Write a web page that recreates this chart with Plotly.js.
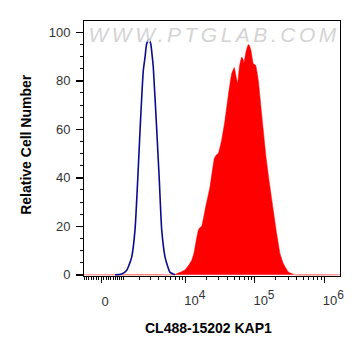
<!DOCTYPE html>
<html>
<head>
<meta charset="utf-8">
<script src="https://cdn.plot.ly/plotly-3.0.1.min.js"></script>
<style>
html,body{margin:0;padding:0;background:#fff;}
.annotation-text.wm{letter-spacing:3.5px;}
</style>
</head>
<body>
<div id="chart" style="width:361px;height:356px;"></div>
<script>
// Display positions are in "decade" units of the biexponential axis (10^4 -> 4, 10^5 -> 5 ...)
const isotypeX = [2.980, 3.076, 3.149, 3.182, 3.221, 3.268, 3.307, 3.341, 3.388, 3.413, 3.437, 3.470, 3.495, 3.518, 3.532, 3.582, 3.619, 3.654, 3.701, 3.745, 3.773, 3.846];
const isotypeCount = [0, 0.3, 1.9, 4, 7.4, 18.4, 39, 59.6, 84.3, 89.8, 95.3, 97, 95.3, 89.8, 85.7, 59.6, 39, 18.4, 7.4, 3, 1, 0];

const kap1X = [2.532, 3.802, 3.860, 3.918, 3.990, 4.040, 4.087, 4.120, 4.144, 4.182, 4.206, 4.231, 4.279, 4.351, 4.413, 4.444, 4.470, 4.519, 4.567, 4.615, 4.664, 4.701, 4.726, 4.750, 4.776, 4.808, 4.827, 4.841, 4.870, 4.903, 4.921, 4.942, 4.975, 5.010, 5.048, 5.072, 5.120, 5.159, 5.216, 5.264, 5.313, 5.361, 5.408, 5.481, 5.577, 6.227];
const kap1Count = [0, 0, 0.3, 1, 2, 3.8, 6, 9, 12.9, 18.4, 19.5, 20, 26.7, 36.3, 48, 49.5, 50, 55.5, 63.7, 74, 83, 85.5, 82, 78.9, 86, 89.8, 89, 87.5, 92, 95, 94.5, 92.6, 87.1, 86.4, 80.2, 73.3, 59.6, 48.6, 36.3, 26.7, 17, 8.8, 4.7, 1.2, 0, 0];

const majorValues = [1e4, 1e5, 1e6];
const majorExponents = ['4', '5', '6'];
const zeroLabel = '0';
const yTickValues = [0, 20, 40, 60, 80, 100];

const xTitle = 'CL488-15202 KAP1';
const yTitle = 'Relative Cell Number';
const watermark = 'WWW.PTGLAB.COM';

// biexponential-like display transform
const ZERO_POS = 2.778, LIN_WIDTH = 1200;
function biex(v){ return ZERO_POS + Math.asinh(v / LIN_WIDTH) / Math.LN10; }

const xRange = [2.532, 6.227];
const yRange = [-0.5, 104.7];

// minor tick values
const minorVals = [];
[100, 1000, 10000, 100000].forEach(function(dec){
  for (let k = 1; k <= 9; k++){
    const v = k * dec;
    [v, -v].forEach(function(w){
      const p = biex(w);
      if (p > xRange[0] && p < xRange[1]) minorVals.push(p);
    });
  }
});

const font = 'Liberation Sans, Arial, sans-serif';
const majorLabels = majorExponents.map(function(e){
  return '10<sup><span style="font-size:12px">' + e + '</span></sup>';
});

const traces = [
  {x: kap1X, y: kap1Count, type: 'scatter', mode: 'lines', fill: 'tozeroy',
   fillcolor: '#ff0000', line: {color: '#ff0000', width: 0.5, shape: 'spline', smoothing: 0.3},
   hoverinfo: 'skip', showlegend: false},
  {x: isotypeX, y: isotypeCount, type: 'scatter', mode: 'lines',
   line: {color: '#0c0c8a', width: 1.6, shape: 'spline', smoothing: 0.6},
   hoverinfo: 'skip', showlegend: false},
  {x: [], y: [], xaxis: 'x2', type: 'scatter', showlegend: false},
  {x: [], y: [], xaxis: 'x3', type: 'scatter', showlegend: false}
];

const layout = {
  width: 361, height: 356,
  margin: {l: 84, r: 21, t: 21, b: 80},
  paper_bgcolor: '#fff', plot_bgcolor: '#fff',
  showlegend: false,
  font: {family: font, color: '#333', size: 13},
  xaxis: {
    range: xRange, showgrid: false, zeroline: false,
    showline: true, mirror: true, linecolor: '#000', linewidth: 1,
    tickmode: 'array', tickvals: majorValues.map(biex), ticktext: majorLabels,
    ticks: 'outside', ticklen: 6, tickcolor: '#000', tickwidth: 1,
    ticklabelshift: 9, ticklabelstandoff: 6,
    tickfont: {family: font, size: 13, color: '#333'}
  },
  xaxis2: {
    overlaying: 'x', anchor: 'y', side: 'bottom', range: xRange,
    showgrid: false, zeroline: false, showline: false,
    tickmode: 'array', tickvals: minorVals, showticklabels: false,
    ticks: 'outside', ticklen: 3, tickcolor: '#000', tickwidth: 1
  },
  xaxis3: {
    overlaying: 'x', anchor: 'y', side: 'bottom', range: xRange,
    showgrid: false, zeroline: false, showline: false,
    tickmode: 'array', tickvals: [biex(0)], ticktext: [zeroLabel],
    ticks: 'outside', ticklen: 6, tickcolor: '#000', tickwidth: 1,
    ticklabelshift: 4, ticklabelstandoff: 7,
    tickfont: {family: font, size: 13, color: '#333'}
  },
  yaxis: {
    range: yRange, showgrid: false, zeroline: false,
    showline: true, mirror: true, linecolor: '#000', linewidth: 1,
    tickmode: 'array', tickvals: yTickValues,
    ticks: 'outside', ticklen: 7, tickcolor: '#000', tickwidth: 1.5,
    ticklabelstandoff: 3,
    minor: {dtick: 5, tick0: 0, ticks: 'outside', ticklen: 3, tickcolor: '#000', tickwidth: 1, showgrid: false},
    tickfont: {family: font, size: 13, color: '#333'}
  },
  annotations: [
    {text: watermark, xref: 'paper', yref: 'paper', x: 0.508, y: 0.947,
     xanchor: 'center', yanchor: 'middle', showarrow: false,
     font: {family: font, size: 21, color: '#d4d4d4', style: 'italic'}},
    {text: '<b>' + xTitle + '</b>', xref: 'paper', yref: 'paper', x: 0.487, y: -0.204,
     xanchor: 'center', yanchor: 'middle', showarrow: false,
     font: {family: font, size: 14, color: '#000'}},
    {text: '<b>' + yTitle + '</b>', xref: 'paper', yref: 'paper', x: -0.224, y: 0.517,
     xanchor: 'center', yanchor: 'middle', showarrow: false, textangle: -90,
     font: {family: font, size: 14, color: '#000'}}
  ]
};

Plotly.newPlot('chart', traces, layout, {staticPlot: true, displayModeBar: false}).then(function(){
  const ann = document.querySelectorAll('.annotation-text');
  if (ann.length) ann[0].classList.add('wm');
});
</script>
</body>
</html>
